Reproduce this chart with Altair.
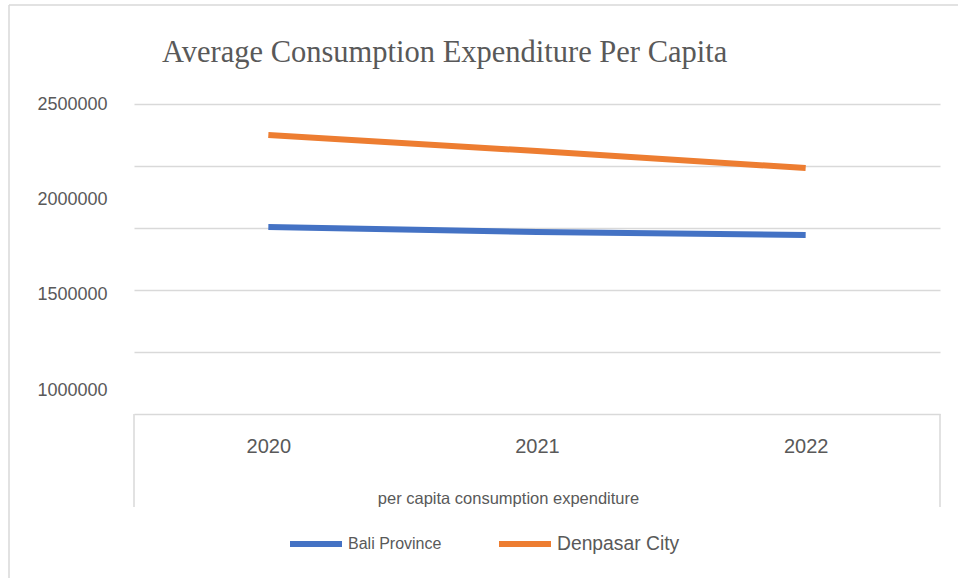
import altair as alt
import pandas as pd

years = ["2020", "2021", "2022"]
bali = [1855000, 1829000, 1813000]
denpasar = [2337000, 2253000, 2164000]
label_ticks = [1000000, 1500000, 2000000, 2500000]
grid_levels = [0, 1, 2, 3, 4, 5]

W, H = 806, 310
y_top = 2500000
y_min = y_top - 1500000 * H / 286

bali_df = pd.DataFrame({"year": years, "value": bali, "series": "Bali Province"})
den_df = pd.DataFrame({"year": years, "value": denpasar, "series": "Denpasar City"})
grid_df = pd.DataFrame({"g": grid_levels})
one = pd.DataFrame({"a": [0]})

GRAY = "#595959"
LINE = "#d9d9d9"
SANS = "Liberation Sans"

xenc = alt.X(
    "year:O",
    scale=alt.Scale(type="point", padding=0.5),
    axis=alt.Axis(
        title="per capita consumption expenditure",
        labelAngle=0, labelFontSize=20, labelColor=GRAY, labelFont=SANS,
        labelPadding=22, ticks=False, tickSize=0, domain=False, grid=False,
        titleFontSize=16.5, titleFont=SANS, titleColor=GRAY,
        titleFontWeight="normal", titlePadding=34, titleX=374, titleAlign="center",
    ),
)
yenc = alt.Y(
    "value:Q",
    scale=alt.Scale(domain=[y_min, y_top], nice=False, zero=False),
    axis=alt.Axis(
        values=label_ticks, format="d", title=None, grid=False, ticks=False,
        domain=False, labelFontSize=18, labelColor=GRAY, labelFont=SANS,
        labelPadding=27,
    ),
)

def legend(x, y, size):
    return alt.Legend(
        orient="none", legendX=x, legendY=y, title=None, padding=0,
        symbolType="stroke", symbolSize=2704, symbolStrokeWidth=6,
        labelFontSize=size, labelColor=GRAY, labelFont=SANS, labelOffset=3,
    )

bali_line = alt.Chart(bali_df).mark_line(strokeWidth=6).encode(
    x=xenc, y=yenc,
    color=alt.Color("series:N", scale=alt.Scale(domain=["Bali Province"], range=["#4472C4"]),
                    legend=legend(153, 411, 16)),
)
den_line = alt.Chart(den_df).mark_line(strokeWidth=6).encode(
    x=xenc, y=yenc,
    color=alt.Color("series:N", scale=alt.Scale(domain=["Denpasar City"], range=["#ED7D31"]),
                    legend=legend(362, 411, 19.3)),
)
lines = alt.layer(bali_line, den_line).resolve_scale(color="independent").resolve_legend(color="independent")

grid = alt.Chart(grid_df).mark_tick(opacity=0).encode(
    y=alt.Y("g:Q", scale=alt.Scale(domain=[0, 5], nice=False),
            axis=alt.Axis(orient="right", values=grid_levels, grid=True, gridColor=LINE,
                          gridWidth=1.5, labels=False, ticks=False, domain=False, title=None)),
)

rule_style = dict(color=LINE, strokeWidth=1.5)
deco = [
    alt.Chart(one).mark_rule(**rule_style).encode(x=alt.value(0), y=alt.value(H), y2=alt.value(403)),
    alt.Chart(one).mark_rule(**rule_style).encode(x=alt.value(W), y=alt.value(H), y2=alt.value(403)),
    alt.Chart(one).mark_rule(**rule_style).encode(x=alt.value(-125), x2=alt.value(900), y=alt.value(-99)),
    alt.Chart(one).mark_rule(**rule_style).encode(x=alt.value(-125), y=alt.value(-99), y2=alt.value(600)),
]

chart = alt.layer(grid, *deco, lines).resolve_scale(y="independent", color="independent").properties(
    width=W, height=H,
    padding={"left": 134, "top": 104, "right": 18, "bottom": 164},
    autosize=alt.AutoSizeParams(type="none"),
    title=alt.TitleParams(
        "Average Consumption Expenditure Per Capita",
        font="Liberation Serif", fontSize=30.5, color=GRAY, fontWeight="normal",
        anchor="start", frame="group", dx=28, offset=-64,
    ),
).configure(background="white").configure_view(stroke=None)

chart.save("out.html", embed_options={"renderer": "svg", "actions": False})
